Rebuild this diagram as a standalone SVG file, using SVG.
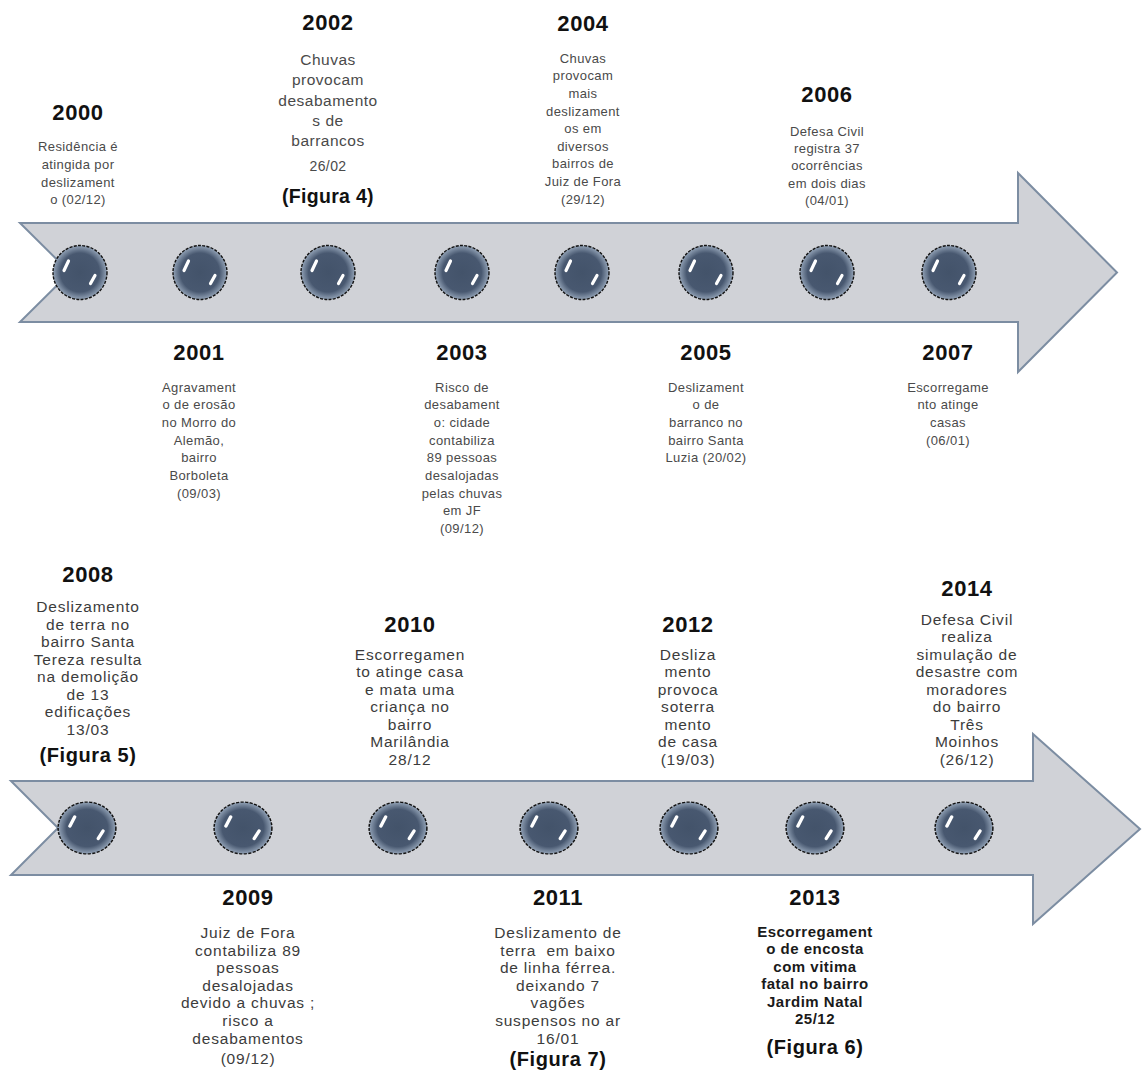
<svg xmlns="http://www.w3.org/2000/svg" xmlns:xlink="http://www.w3.org/1999/xlink" width="1142" height="1072" viewBox="0 0 1142 1072">
<style>
text{font-family:"Liberation Sans",Arial,sans-serif;text-anchor:middle}
.yr{font-weight:700;font-size:22px;fill:#111;letter-spacing:.6px}
.dt{font-size:13px;fill:#4a4a4a;letter-spacing:.4px}
.dm{font-size:15.5px;fill:#4a4a4a;letter-spacing:.5px}
.db{font-size:15.5px;fill:#3c3c3c;letter-spacing:.8px}
.dbb{font-size:15px;font-weight:700;fill:#1a1a1a;letter-spacing:.5px}
.fig{font-weight:700;font-size:20px;fill:#111;letter-spacing:.6px}
.arrow{fill:#D0D2D7;stroke:#7C8DA2;stroke-width:2;stroke-linejoin:miter}
</style>
<defs>
<radialGradient id="bg" cx="50%" cy="50%" r="50%">
<stop offset="0" stop-color="#43536A"/>
<stop offset="0.72" stop-color="#485870"/>
<stop offset="1" stop-color="#93A3B7"/>
</radialGradient>
<g id="bead">
<circle r="27" fill="url(#bg)"/>
<circle r="27" fill="none" stroke="#111" stroke-width="1.4" stroke-dasharray="3 1.3"/>
<path d="M-16,-2 L-11.5,-11.5" stroke="#fff" stroke-width="3.2" stroke-linecap="round"/>
<path d="M10.5,11 L15,3" stroke="#fff" stroke-width="3.2" stroke-linecap="round"/>
</g>
</defs>
<rect width="1142" height="1072" fill="#fff"/>
<g id="connectors">
<path class="arrow" d="M20,223 L1018,223 L1018,173 L1117,272.5 L1018,372 L1018,322 L20,322 L70,272.5 Z"/>
<path class="arrow" d="M11,781 L1033,781 L1033,734 L1140,829 L1033,924 L1033,875 L11,875 L58,828 Z"/>
</g>
<g id="ev2000">
<use xlink:href="#bead" href="#bead" transform="translate(80,272.5)"/>
<text class="yr" x="78" y="120">2000</text>
<text class="dt"><tspan x="78" y="151">Residência é</tspan><tspan x="78" y="169">atingida por</tspan><tspan x="78" y="186.5">deslizament</tspan><tspan x="78" y="204">o (02/12)</tspan></text>
</g>
<g id="ev2001">
<use xlink:href="#bead" href="#bead" transform="translate(200,272.5)"/>
<text class="yr" x="199" y="360">2001</text>
<text class="dt"><tspan x="199" y="391.5">Agravament</tspan><tspan x="199" y="409.2">o de erosão</tspan><tspan x="199" y="426.9">no Morro do</tspan><tspan x="199" y="444.6">Alemão,</tspan><tspan x="199" y="462.3">bairro</tspan><tspan x="199" y="480">Borboleta</tspan><tspan x="199" y="497.7">(09/03)</tspan></text>
</g>
<g id="ev2002">
<use xlink:href="#bead" href="#bead" transform="translate(328,272.5)"/>
<text class="yr" x="328" y="30">2002</text>
<text class="dm"><tspan x="328" y="65">Chuvas</tspan><tspan x="328" y="85">provocam</tspan><tspan x="328" y="105.5">desabamento</tspan><tspan x="328" y="126">s de</tspan><tspan x="328" y="146">barrancos</tspan></text>
<text class="dt" x="328" y="171" style="font-size:14px">26/02</text>
<text class="fig" x="328" y="203" style="font-size:19.5px;letter-spacing:.3px">(Figura 4)</text>
</g>
<g id="ev2003">
<use xlink:href="#bead" href="#bead" transform="translate(462,272.5)"/>
<text class="yr" x="462" y="360">2003</text>
<text class="dt"><tspan x="462" y="391.5">Risco de</tspan><tspan x="462" y="409.2">desabament</tspan><tspan x="462" y="426.9">o: cidade</tspan><tspan x="462" y="444.6">contabiliza</tspan><tspan x="462" y="462.3">89 pessoas</tspan><tspan x="462" y="480">desalojadas</tspan><tspan x="462" y="497.7">pelas chuvas</tspan><tspan x="462" y="515.4">em JF</tspan><tspan x="462" y="533.1">(09/12)</tspan></text>
</g>
<g id="ev2004">
<use xlink:href="#bead" href="#bead" transform="translate(582,272.5)"/>
<text class="yr" x="583" y="31">2004</text>
<text class="dt"><tspan x="583" y="62.5">Chuvas</tspan><tspan x="583" y="80.2">provocam</tspan><tspan x="583" y="97.8">mais</tspan><tspan x="583" y="115.5">deslizament</tspan><tspan x="583" y="133.1">os em</tspan><tspan x="583" y="150.8">diversos</tspan><tspan x="583" y="168.4">bairros de</tspan><tspan x="583" y="186.1">Juiz de Fora</tspan><tspan x="583" y="203.7">(29/12)</tspan></text>
</g>
<g id="ev2005">
<use xlink:href="#bead" href="#bead" transform="translate(706,272.5)"/>
<text class="yr" x="706" y="360">2005</text>
<text class="dt"><tspan x="706" y="391.5">Deslizament</tspan><tspan x="706" y="409.2">o de</tspan><tspan x="706" y="426.9">barranco no</tspan><tspan x="706" y="444.6">bairro Santa</tspan><tspan x="706" y="462.3">Luzia (20/02)</tspan></text>
</g>
<g id="ev2006">
<use xlink:href="#bead" href="#bead" transform="translate(827,272.5)"/>
<text class="yr" x="827" y="102">2006</text>
<text class="dt"><tspan x="827" y="135.5">Defesa Civil</tspan><tspan x="827" y="152.9">registra 37</tspan><tspan x="827" y="170.3">ocorrências</tspan><tspan x="827" y="187.7">em dois dias</tspan><tspan x="827" y="205.1">(04/01)</tspan></text>
</g>
<g id="ev2007">
<use xlink:href="#bead" href="#bead" transform="translate(949,272.5)"/>
<text class="yr" x="948" y="360">2007</text>
<text class="dt"><tspan x="948" y="391.5">Escorregame</tspan><tspan x="948" y="409.2">nto atinge</tspan><tspan x="948" y="426.9">casas</tspan><tspan x="948" y="444.6">(06/01)</tspan></text>
</g>
<g id="ev2008">
<use xlink:href="#bead" href="#bead" transform="translate(87,828) scale(1.07,0.96)"/>
<text class="yr" x="88" y="582">2008</text>
<text class="db"><tspan x="88" y="612">Deslizamento</tspan><tspan x="88" y="629.5">de terra no</tspan><tspan x="88" y="647">bairro Santa</tspan><tspan x="88" y="664.5">Tereza resulta</tspan><tspan x="88" y="682">na demolição</tspan><tspan x="88" y="699.5">de 13</tspan><tspan x="88" y="717">edificações</tspan><tspan x="88" y="734.5">13/03</tspan></text>
<text class="fig" x="88" y="762">(Figura 5)</text>
</g>
<g id="ev2009">
<use xlink:href="#bead" href="#bead" transform="translate(243,828) scale(1.07,0.96)"/>
<text class="yr" x="248" y="905">2009</text>
<text class="db"><tspan x="248" y="938">Juiz de Fora</tspan><tspan x="248" y="955.6">contabiliza 89</tspan><tspan x="248" y="973.2">pessoas</tspan><tspan x="248" y="990.8">desalojadas</tspan><tspan x="248" y="1008.4">devido a chuvas ;</tspan><tspan x="248" y="1026">risco a</tspan><tspan x="248" y="1043.6">desabamentos</tspan></text>
<text class="db" x="248" y="1064">(09/12)</text>
</g>
<g id="ev2010">
<use xlink:href="#bead" href="#bead" transform="translate(398,828) scale(1.07,0.96)"/>
<text class="yr" x="410" y="632">2010</text>
<text class="db"><tspan x="410" y="659.5">Escorregamen</tspan><tspan x="410" y="677">to atinge casa</tspan><tspan x="410" y="694.5">e mata uma</tspan><tspan x="410" y="712">criança no</tspan><tspan x="410" y="729.5">bairro</tspan><tspan x="410" y="747">Marilândia</tspan><tspan x="410" y="764.5">28/12</tspan></text>
</g>
<g id="ev2011">
<use xlink:href="#bead" href="#bead" transform="translate(549,828) scale(1.07,0.96)"/>
<text class="yr" x="558" y="905">2011</text>
<text class="db" xml:space="preserve"><tspan x="558" y="938">Deslizamento de</tspan><tspan x="558" y="955.6">terra  em baixo</tspan><tspan x="558" y="973.2">de linha férrea.</tspan><tspan x="558" y="990.8">deixando 7</tspan><tspan x="558" y="1008.4">vagões</tspan><tspan x="558" y="1026">suspensos no ar</tspan><tspan x="558" y="1043.6">16/01</tspan></text>
<text class="fig" x="558" y="1066">(Figura 7)</text>
</g>
<g id="ev2012">
<use xlink:href="#bead" href="#bead" transform="translate(689,828) scale(1.07,0.96)"/>
<text class="yr" x="688" y="632">2012</text>
<text class="db"><tspan x="688" y="659.5">Desliza</tspan><tspan x="688" y="677">mento</tspan><tspan x="688" y="694.5">provoca</tspan><tspan x="688" y="712">soterra</tspan><tspan x="688" y="729.5">mento</tspan><tspan x="688" y="747">de casa</tspan><tspan x="688" y="764.5">(19/03)</tspan></text>
</g>
<g id="ev2013">
<use xlink:href="#bead" href="#bead" transform="translate(815,828) scale(1.07,0.96)"/>
<text class="yr" x="815" y="905">2013</text>
<text class="dbb"><tspan x="815" y="937">Escorregament</tspan><tspan x="815" y="954.4">o de encosta</tspan><tspan x="815" y="971.8">com vitima</tspan><tspan x="815" y="989.2">fatal no bairro</tspan><tspan x="815" y="1006.6">Jardim Natal</tspan><tspan x="815" y="1024">25/12</tspan></text>
<text class="fig" x="815" y="1054">(Figura 6)</text>
</g>
<g id="ev2014">
<use xlink:href="#bead" href="#bead" transform="translate(964,828) scale(1.07,0.96)"/>
<text class="yr" x="967" y="596">2014</text>
<text class="db"><tspan x="967" y="624.5">Defesa Civil</tspan><tspan x="967" y="642">realiza</tspan><tspan x="967" y="659.5">simulação de</tspan><tspan x="967" y="677">desastre com</tspan><tspan x="967" y="694.5">moradores</tspan><tspan x="967" y="712">do bairro</tspan><tspan x="967" y="729.5">Três</tspan><tspan x="967" y="747">Moinhos</tspan><tspan x="967" y="764.5">(26/12)</tspan></text>
</g>
</svg>
